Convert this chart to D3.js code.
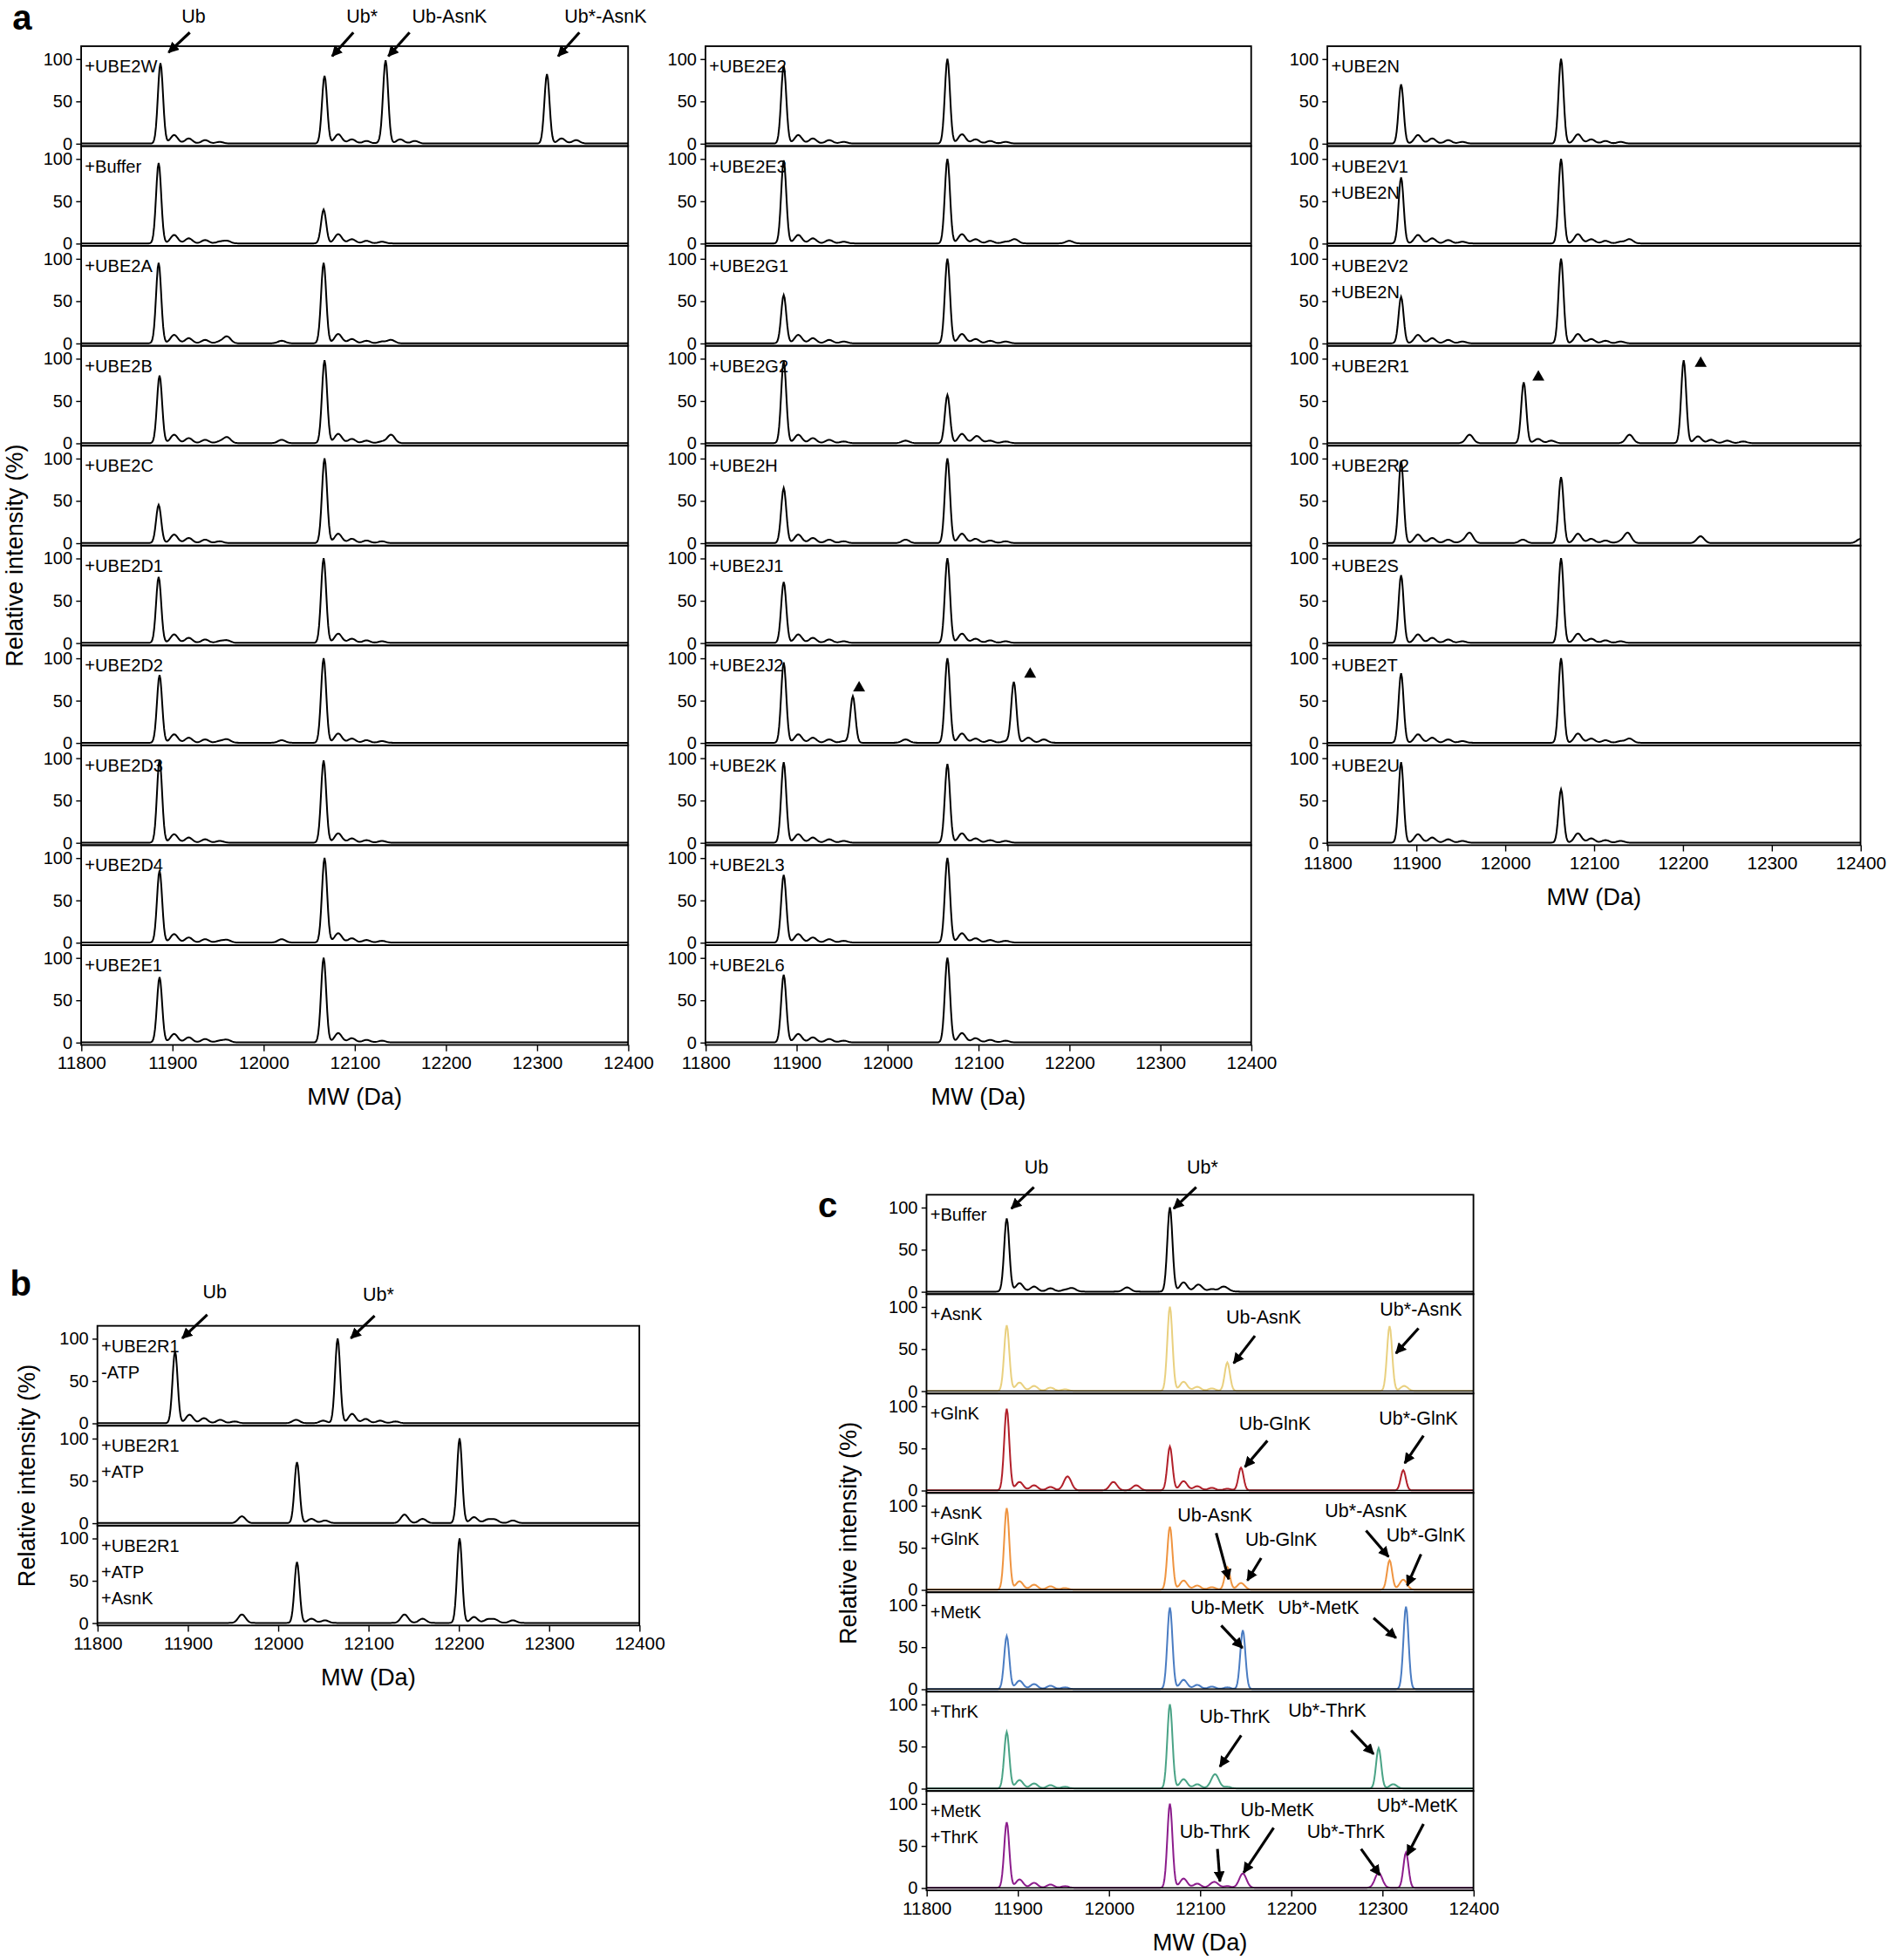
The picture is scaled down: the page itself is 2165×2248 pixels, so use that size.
<!DOCTYPE html>
<html><head><meta charset="utf-8">
<script src="https://cdn.jsdelivr.net/npm/d3@7"></script>
<style>body{margin:0;background:#fff}text{font-family:"Liberation Sans",Arial,sans-serif}</style>
</head><body><svg id="c" width="2165" height="2248"></svg>
<script>
// ---- data: peak lists [MW (Da), relative intensity %] ----
const xTicks = [11800,11900,12000,12100,12200,12300,12400];
const yTicks = [0,50,100];
const satUb = [[11902,10],[11918,6],[11936,4],[11952,2]];
const satUbS = [[12082,11],[12097,5],[12113,3],[12130,2]];
const col1Labels = [["+UBE2W"],["+Buffer"],["+UBE2A"],["+UBE2B"],["+UBE2C"],["+UBE2D1"],["+UBE2D2"],["+UBE2D3"],["+UBE2D4"],["+UBE2E1"]];
const col1Peaks = [
 [[11887,95],[12067,80],[12134,97],[12311,82],[12150,5],[12166,3],[12327,6],[12343,4]],
 [[11885,95],[12066,40],[11960,3]],
 [[11885,95],[12066,95],[11960,8],[12020,3],[12140,4]],
 [[11886,80],[12067,98],[11960,7],[12020,4],[12140,10]],
 [[11885,45],[12067,100]],
 [[11885,78],[12066,100],[11960,3]],
 [[11886,80],[12066,100],[11960,4],[12020,3]],
 [[11886,98],[12066,97]],
 [[11886,85],[12067,100],[12020,4],[11960,3]],
 [[11886,77],[12066,100],[11960,3]]
].map(p=>p.concat(satUb,satUbS));
const col2Labels = [["+UBE2E2"],["+UBE2E3"],["+UBE2G1"],["+UBE2G2"],["+UBE2H"],["+UBE2J1"],["+UBE2J2"],["+UBE2K"],["+UBE2L3"],["+UBE2L6"]];
const col2Peaks = [
 [[11886,92],[12066,100]],
 [[11886,98],[12066,100],[12140,5],[12200,3]],
 [[11886,57],[12066,100]],
 [[11886,97],[12066,57],[12020,3],[12100,4]],
 [[11886,65],[12066,100],[12020,4]],
 [[11886,72],[12066,100]],
 [[11886,95],[11962,55],[12066,100],[12139,72],[12020,4],[12155,6],[12172,4]],
 [[11886,95],[12066,93]],
 [[11886,80],[12066,100]],
 [[11886,80],[12066,100]]
].map(p=>p.concat(satUb,satUbS));
const col3Labels = [["+UBE2N"],["+UBE2V1","+UBE2N"],["+UBE2V2","+UBE2N"],["+UBE2R1"],["+UBE2R2"],["+UBE2S"],["+UBE2T"],["+UBE2U"]];
const col3Peaks = [
 [[11883,70],[12063,100]].concat(satUb,satUbS),
 [[11883,78],[12063,100],[12140,5]].concat(satUb,satUbS),
 [[11883,55],[12063,100]].concat(satUb,satUbS),
 [[12021,72],[12201,98],[11960,10],[12037,5],[12052,3],[12140,10],[12217,8],[12232,4],[12250,3],[12268,2]],
 [[11883,97],[12063,78],[11960,12],[12020,4],[12138,12],[12220,8],[12400,5]].concat(satUb,satUbS),
 [[11883,80],[12063,100]].concat(satUb,satUbS),
 [[11883,82],[12063,100],[12140,5]].concat(satUb,satUbS),
 [[11883,95],[12063,63]].concat(satUb,satUbS)
];
const bLabels = [["+UBE2R1","-ATP"],["+UBE2R1","+ATP"],["+UBE2R1","+ATP","+AsnK"]];
const bPeaks = [
 [[11886,85],[12066,100],[12020,4],[12050,3]].concat(satUb,satUbS),
 [[12021,72],[12201,100],[11960,8],[12140,10],[12160,5],[12240,4],[12260,3],[12037,5],[12052,3],[12217,7],[12232,4]],
 [[12021,72],[12201,100],[11960,10],[12140,10],[12160,5],[12240,4],[12260,3],[12037,5],[12052,3],[12217,7],[12232,4]]
];
const cLabels = [["+Buffer"],["+AsnK"],["+GlnK"],["+AsnK","+GlnK"],["+MetK"],["+ThrK"],["+MetK","+ThrK"]];
const cColors = ["#000000","#e9d07f","#b2202a","#ef9440","#4a7cc2","#4aa386","#8c1d8c"];
const cPeaks = [
 [[11888,87],[12067,100],[11960,4],[12020,5],[12100,4],[12125,5]],
 [[11888,78],[12067,100],[12130,32],[12308,77],[12324,6]],
 [[11888,97],[12067,52],[12145,27],[12323,24],[11955,15],[12005,10],[12030,6]],
 [[11888,97],[12067,75],[12130,25],[12145,8],[12308,35],[12323,12]],
 [[11888,63],[12067,97],[12147,70],[12326,98]],
 [[11888,67],[12067,100],[12117,15],[12296,48],[12312,5]],
 [[11888,78],[12067,100],[12117,5],[12147,17],[12296,18],[12326,42]]
].map(p=>p.concat(satUb,satUbS));
// annotation arrows: text, text pos, tail, tip (layout units)
const annA = [["Ub",155,18,152,26,135,42],["Ub*",290,18,283,26,266,45],["Ub-AsnK",360,18,328,26,311,45],["Ub*-AsnK",485,18,464,26,447,45]];
const annB = [["Ub",172,1040,166,1053,146,1072],["Ub*",303,1042,300,1054,281,1072]];
const annC = [["Ub",830,940,828,951,810,968],["Ub*",963,940,958,951,940,968],
 ["Ub-AsnK",1012,1060,1005,1070,988,1092],["Ub*-AsnK",1138,1054,1136,1064,1118,1084],
 ["Ub-GlnK",1021,1145,1015,1154,997,1175],["Ub*-GlnK",1136,1141,1140,1150,1125,1172],
 ["Ub-AsnK",973,1219,974,1228,984,1265],["Ub-GlnK",1026,1238,1010,1248,999,1266],
 ["Ub*-AsnK",1094,1215,1094,1226,1112,1247],["Ub*-GlnK",1142,1235,1138,1245,1127,1270],
 ["Ub-MetK",983,1293,978,1302,995,1320],["Ub*-MetK",1056,1293,1100,1296,1118,1312],
 ["Ub-ThrK",989,1380,994,1390,977,1415],["Ub*-ThrK",1063,1375,1082,1386,1100,1405],
 ["Ub-ThrK",973,1472,975,1481,977,1507],["Ub-MetK",1023,1455,1020,1464,996,1500],
 ["Ub*-ThrK",1078,1472,1090,1481,1105,1502],["Ub*-MetK",1135,1451,1140,1461,1127,1486]];
const tri = [[688,551],[825,540],[1232,302],[1362,291]];

const K = 2165/1512;
const svg = d3.select("#c");
const root = svg.append("g").attr("transform",`scale(${K})`);
svg.append("defs").append("marker").attr("id","ah").attr("viewBox","0 0 10 10").attr("refX",9).attr("refY",5)
 .attr("markerWidth",4).attr("markerHeight",4).attr("orient","auto")
 .append("path").attr("d","M0,0L10,5L0,10z").attr("fill","#000");

const grid = d3.range(11800,12400.5,1);
function spectrum(peaks){
  return grid.map(x=>[x,d3.sum(peaks,p=>p[1]*Math.exp(-((x-p[0])**2)/(2*(p[1]>=20?2.8:4)**2)))]);
}
function panel(o){
  const x = d3.scaleLinear().domain([11800,12400]).range([o.l,o.r]);
  o.peaks.forEach((pk,i)=>{
    const top=o.t+i*o.h, bot=top+o.h;
    const y = d3.scaleLinear().domain([-3,115]).range([bot,top]);
    const g = root.append("g");
    g.append("g").attr("transform",`translate(${o.l},0)`).call(d3.axisLeft(y).tickValues(yTicks).tickSize(4).tickPadding(3))
     .call(a=>{a.select(".domain").remove();a.selectAll("text").attr("font-size",14).attr("font-family","Liberation Sans, Arial");});
    g.append("path").datum(spectrum(pk)).attr("fill","none").attr("stroke",o.colors?o.colors[i]:"#000").attr("stroke-width",1.4)
     .attr("d",d3.line().x(d=>x(d[0])).y(d=>y(d[1])));
    if(o.colors && i>0) g.append("line").attr("x1",o.l).attr("x2",o.r).attr("y1",y(0)).attr("y2",y(0)).attr("stroke","#000").attr("stroke-width",1);
    g.append("rect").attr("x",o.l).attr("y",top).attr("width",o.r-o.l).attr("height",o.h).attr("fill","none").attr("stroke","#000").attr("stroke-width",1.3);
    o.labels[i].forEach((s,j)=>g.append("text").attr("x",o.l+3).attr("y",top+21+j*21).attr("font-size",14).text(s));
  });
  const bot=o.t+o.peaks.length*o.h;
  root.append("g").attr("transform",`translate(0,${bot})`).call(d3.axisBottom(x).tickValues(xTicks).tickFormat(d3.format("d")).tickSize(5).tickPadding(4))
   .call(a=>{a.select(".domain").remove();a.selectAll("text").attr("font-size",14.5).attr("font-family","Liberation Sans, Arial");});
  root.append("text").attr("x",(o.l+o.r)/2).attr("y",bot+48).attr("text-anchor","middle").attr("font-size",19).text("MW (Da)");
}
panel({l:65,r:503,t:37,h:80,peaks:col1Peaks,labels:col1Labels});
panel({l:565,r:1002,t:37,h:80,peaks:col2Peaks,labels:col2Labels});
panel({l:1063,r:1490,t:37,h:80,peaks:col3Peaks,labels:col3Labels});
panel({l:78,r:512,t:1062,h:80,peaks:bPeaks,labels:bLabels});
panel({l:742,r:1180,t:957,h:79.6,peaks:cPeaks,labels:cLabels,colors:cColors});

function ylab(x,y){root.append("text").attr("transform",`translate(${x},${y}) rotate(-90)`).attr("text-anchor","middle").attr("font-size",19).text("Relative intensity (%)");}
ylab(18,445); ylab(28,1182); ylab(686,1228);
[["a",10,24],["b",8,1038],["c",655,975]].forEach(d=>root.append("text").attr("x",d[1]).attr("y",d[2]).attr("font-size",28).attr("font-weight","bold").text(d[0]));
[...annA,...annB,...annC].forEach(a=>{
  root.append("text").attr("x",a[1]).attr("y",a[2]).attr("text-anchor","middle").attr("font-size",15).text(a[0]);
  root.append("line").attr("x1",a[3]).attr("y1",a[4]).attr("x2",a[5]).attr("y2",a[6]).attr("stroke","#000").attr("stroke-width",2.2).attr("marker-end","url(#ah)");
});
tri.forEach(t=>root.append("path").attr("d",d3.symbol(d3.symbolTriangle,40)()).attr("transform",`translate(${t[0]},${t[1]})`).attr("fill","#000"));
</script></body></html>
